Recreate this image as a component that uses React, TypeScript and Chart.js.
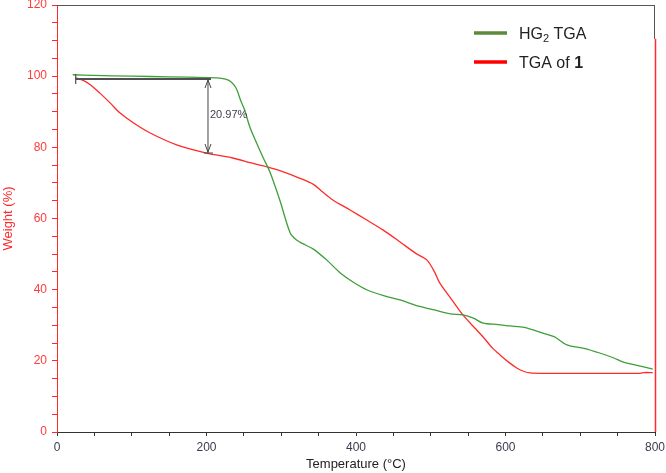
import React, { useEffect, useRef } from "react";
import { Chart, registerables } from "chart.js";

Chart.register(...registerables);

const hgTemps = [21, 50, 100, 150, 200, 220, 230, 237, 241, 246, 251, 258, 267, 276, 285, 298, 312, 320, 328, 343, 361, 379, 397, 415, 437, 459, 481, 503, 526, 543, 557, 570, 590, 606, 625, 650, 665, 682, 705, 726, 745, 757, 780, 797];
const hgWeights = [100.4, 100.2, 100.0, 99.8, 99.6, 99.4, 98.8, 97.5, 96, 93, 90.5, 85.7, 81.2, 77, 73, 65.2, 55.9, 54, 53, 51.4, 48.3, 44.7, 42, 39.9, 38.3, 37.1, 35.5, 34.4, 33.2, 32.9, 32, 30.6, 30.2, 29.8, 29.4, 27.8, 26.8, 24.5, 23.5, 22.2, 20.8, 19.7, 18.5, 17.7];

const c1Temps = [25, 35, 45, 57, 71, 84, 102, 124, 160, 200, 235, 260, 281, 300, 325, 343, 355, 369, 392, 415, 436, 459, 480, 495, 505, 512, 527, 543, 560, 570, 583, 593, 605, 615, 625, 633, 650, 700, 750, 780, 785, 797];
const c1Weights = [99.5, 98.8, 97.5, 95.3, 92.5, 89.7, 86.9, 84.1, 80.7, 78.4, 77, 75.6, 74.5, 73.3, 71.3, 69.6, 67.5, 65.2, 62.4, 59.5, 56.8, 53.4, 50.2, 48.3, 45, 41.9, 37.5, 32.9, 29, 26.7, 23.5, 21.6, 19.5, 18, 17, 16.6, 16.5, 16.5, 16.5, 16.5, 16.7, 16.7];

const seriesNames = ["HG", "TGA of "];
const annotationText = "20.97%";
const annotationStart = 25;
const annotationEnd = 202;
const annotationTop = 99.2;
const annotationBottom = 78.4;

const GREEN = "#3f9e3a";
const RED = "#ff2a2a";
const LEG_GREEN = "#5b8a3c";
const LEG_RED = "#ff0000";

const overlayPlugin = {
  id: "overlay",
  afterDatasetsDraw(chart: any) {
    const { ctx, chartArea, scales } = chart;
    const xs = scales.x;
    const ys = scales.y;
    ctx.save();
    // top border
    ctx.strokeStyle = "#555";
    ctx.lineWidth = 1;
    ctx.beginPath();
    ctx.moveTo(chartArea.left, chartArea.top + 0.5);
    ctx.lineTo(chartArea.right, chartArea.top + 0.5);
    ctx.stroke();
    // right border top part (dark)
    const yRed = ys.getPixelForValue(110.5);
    ctx.beginPath();
    ctx.moveTo(chartArea.right - 0.5, chartArea.top);
    ctx.lineTo(chartArea.right - 0.5, yRed);
    ctx.stroke();
    // red right axis line
    ctx.strokeStyle = RED;
    ctx.lineWidth = 1.5;
    ctx.beginPath();
    ctx.moveTo(chartArea.right + 0.5, yRed);
    ctx.lineTo(chartArea.right + 0.5, chartArea.bottom);
    ctx.stroke();

    // annotation
    const x0 = xs.getPixelForValue(annotationStart);
    const x1 = xs.getPixelForValue(annotationEnd);
    const yT = ys.getPixelForValue(annotationTop);
    const yB = ys.getPixelForValue(annotationBottom);
    ctx.strokeStyle = "#505050";
    ctx.lineWidth = 2;
    ctx.beginPath();
    ctx.moveTo(x0, yT);
    ctx.lineTo(x1 + 3, yT);
    ctx.stroke();
    ctx.lineWidth = 1.2;
    ctx.beginPath();
    ctx.moveTo(x0, yT - 5);
    ctx.lineTo(x0, yT + 5);
    ctx.stroke();
    ctx.strokeStyle = "#444";
    ctx.lineWidth = 1;
    ctx.beginPath();
    ctx.moveTo(x1, yT);
    ctx.lineTo(x1, yB);
    ctx.moveTo(x1 - 4, yB);
    ctx.lineTo(x1 + 5, yB);
    // arrowheads
    ctx.moveTo(x1 - 3, yT + 9);
    ctx.lineTo(x1, yT + 1);
    ctx.lineTo(x1 + 3, yT + 9);
    ctx.moveTo(x1 - 3, yB - 9);
    ctx.lineTo(x1, yB - 1);
    ctx.lineTo(x1 + 3, yB - 9);
    ctx.stroke();
    ctx.fillStyle = "#404050";
    ctx.font = "11px 'Liberation Sans', Arial, sans-serif";
    ctx.textBaseline = "middle";
    ctx.textAlign = "left";
    ctx.fillText(annotationText, x1 + 2, (yT + yB) / 2 - 1);

    // legend
    const lx = 474;
    const tx = 519;
    const rows = [
      { y: 33, color: LEG_GREEN },
      { y: 62, color: LEG_RED },
    ];
    ctx.lineWidth = 3.5;
    rows.forEach((r) => {
      ctx.strokeStyle = r.color;
      ctx.beginPath();
      ctx.moveTo(lx, r.y);
      ctx.lineTo(lx + 33, r.y);
      ctx.stroke();
    });
    ctx.fillStyle = "#222";
    ctx.textBaseline = "alphabetic";
    const f = "16px 'Liberation Sans', Arial, sans-serif";
    const fs = "11px 'Liberation Sans', Arial, sans-serif";
    const fb = "bold 16px 'Liberation Sans', Arial, sans-serif";
    let cx = tx;
    ctx.font = f;
    ctx.fillText(seriesNames[0], cx, 39);
    cx += ctx.measureText(seriesNames[0]).width;
    ctx.font = fs;
    ctx.fillText("2", cx, 42);
    cx += ctx.measureText("2").width;
    ctx.font = f;
    ctx.fillText(" TGA", cx, 39);
    cx = tx;
    ctx.fillText(seriesNames[1], cx, 68);
    cx += ctx.measureText(seriesNames[1]).width;
    ctx.font = fb;
    ctx.fillText("1", cx, 68);
    ctx.restore();
  },
};

export default function App() {
  const ref = useRef<HTMLCanvasElement | null>(null);
  useEffect(() => {
    document.body.style.margin = "0";
    if (!ref.current) return;
    const chart = new Chart(ref.current, {
      type: "scatter",
      data: {
        datasets: [
          {
            label: "HG2 TGA",
            data: hgTemps.map((t, i) => ({ x: t, y: hgWeights[i] })),
            showLine: true,
            borderColor: GREEN,
            borderWidth: 1.3,
            pointRadius: 0,
            tension: 0.3,
          },
          {
            label: "TGA of 1",
            data: c1Temps.map((t, i) => ({ x: t, y: c1Weights[i] })),
            showLine: true,
            borderColor: RED,
            borderWidth: 1.3,
            pointRadius: 0,
            tension: 0.3,
          },
        ],
      },
      options: {
        animation: false,
        responsive: true,
        maintainAspectRatio: false,
        layout: { padding: { top: 5, right: 11, left: 0, bottom: 0 } },
        plugins: { legend: { display: false }, tooltip: { enabled: false } },
        scales: {
          x: {
            type: "linear",
            min: 0,
            max: 800,
            afterFit: (s: any) => {
              s.height = 41;
              s.paddingLeft = 0;
              s.paddingRight = 0;
            },
            border: { color: "#333", width: 1 },
            grid: { drawOnChartArea: false, drawTicks: true, tickLength: 4, color: "#333" },
            ticks: {
              stepSize: 50,
              autoSkip: false,
              maxRotation: 0,
              padding: 4,
              color: "#3c3c50",
              font: { family: "'Liberation Sans', Arial, sans-serif", size: 12 },
              callback: (v: any) => (Number(v) % 200 === 0 ? String(v) : ""),
            },
            title: {
              display: true,
              text: "Temperature (°C)",
              color: "#222",
              font: { family: "'Liberation Sans', Arial, sans-serif", size: 13 },
              padding: { top: 0, bottom: 1 },
            },
          },
          y: {
            type: "linear",
            min: 0,
            max: 120,
            afterFit: (s: any) => {
              s.width = 57;
              s.paddingTop = 0;
              s.paddingBottom = 0;
            },
            border: { color: RED, width: 1 },
            grid: { drawOnChartArea: false, drawTicks: true, tickLength: 5, color: RED },
            ticks: {
              stepSize: 5,
              autoSkip: false,
              padding: 5,
              color: "#ff3b3b",
              font: { family: "'Liberation Sans', Arial, sans-serif", size: 12 },
              callback: (v: any) => (Number(v) % 20 === 0 ? String(v) : ""),
            },
            title: {
              display: true,
              text: "Weight (%)",
              color: "#ff2a2a",
              font: { family: "'Liberation Sans', Arial, sans-serif", size: 13 },
              padding: { top: 1, bottom: 0 },
            },
          },
        },
      },
      plugins: [overlayPlugin],
    } as any);
    return () => chart.destroy();
  }, []);
  return (
    <div style={{ width: 666, height: 473, position: "relative" }}>
      <canvas ref={ref} />
    </div>
  );
}
